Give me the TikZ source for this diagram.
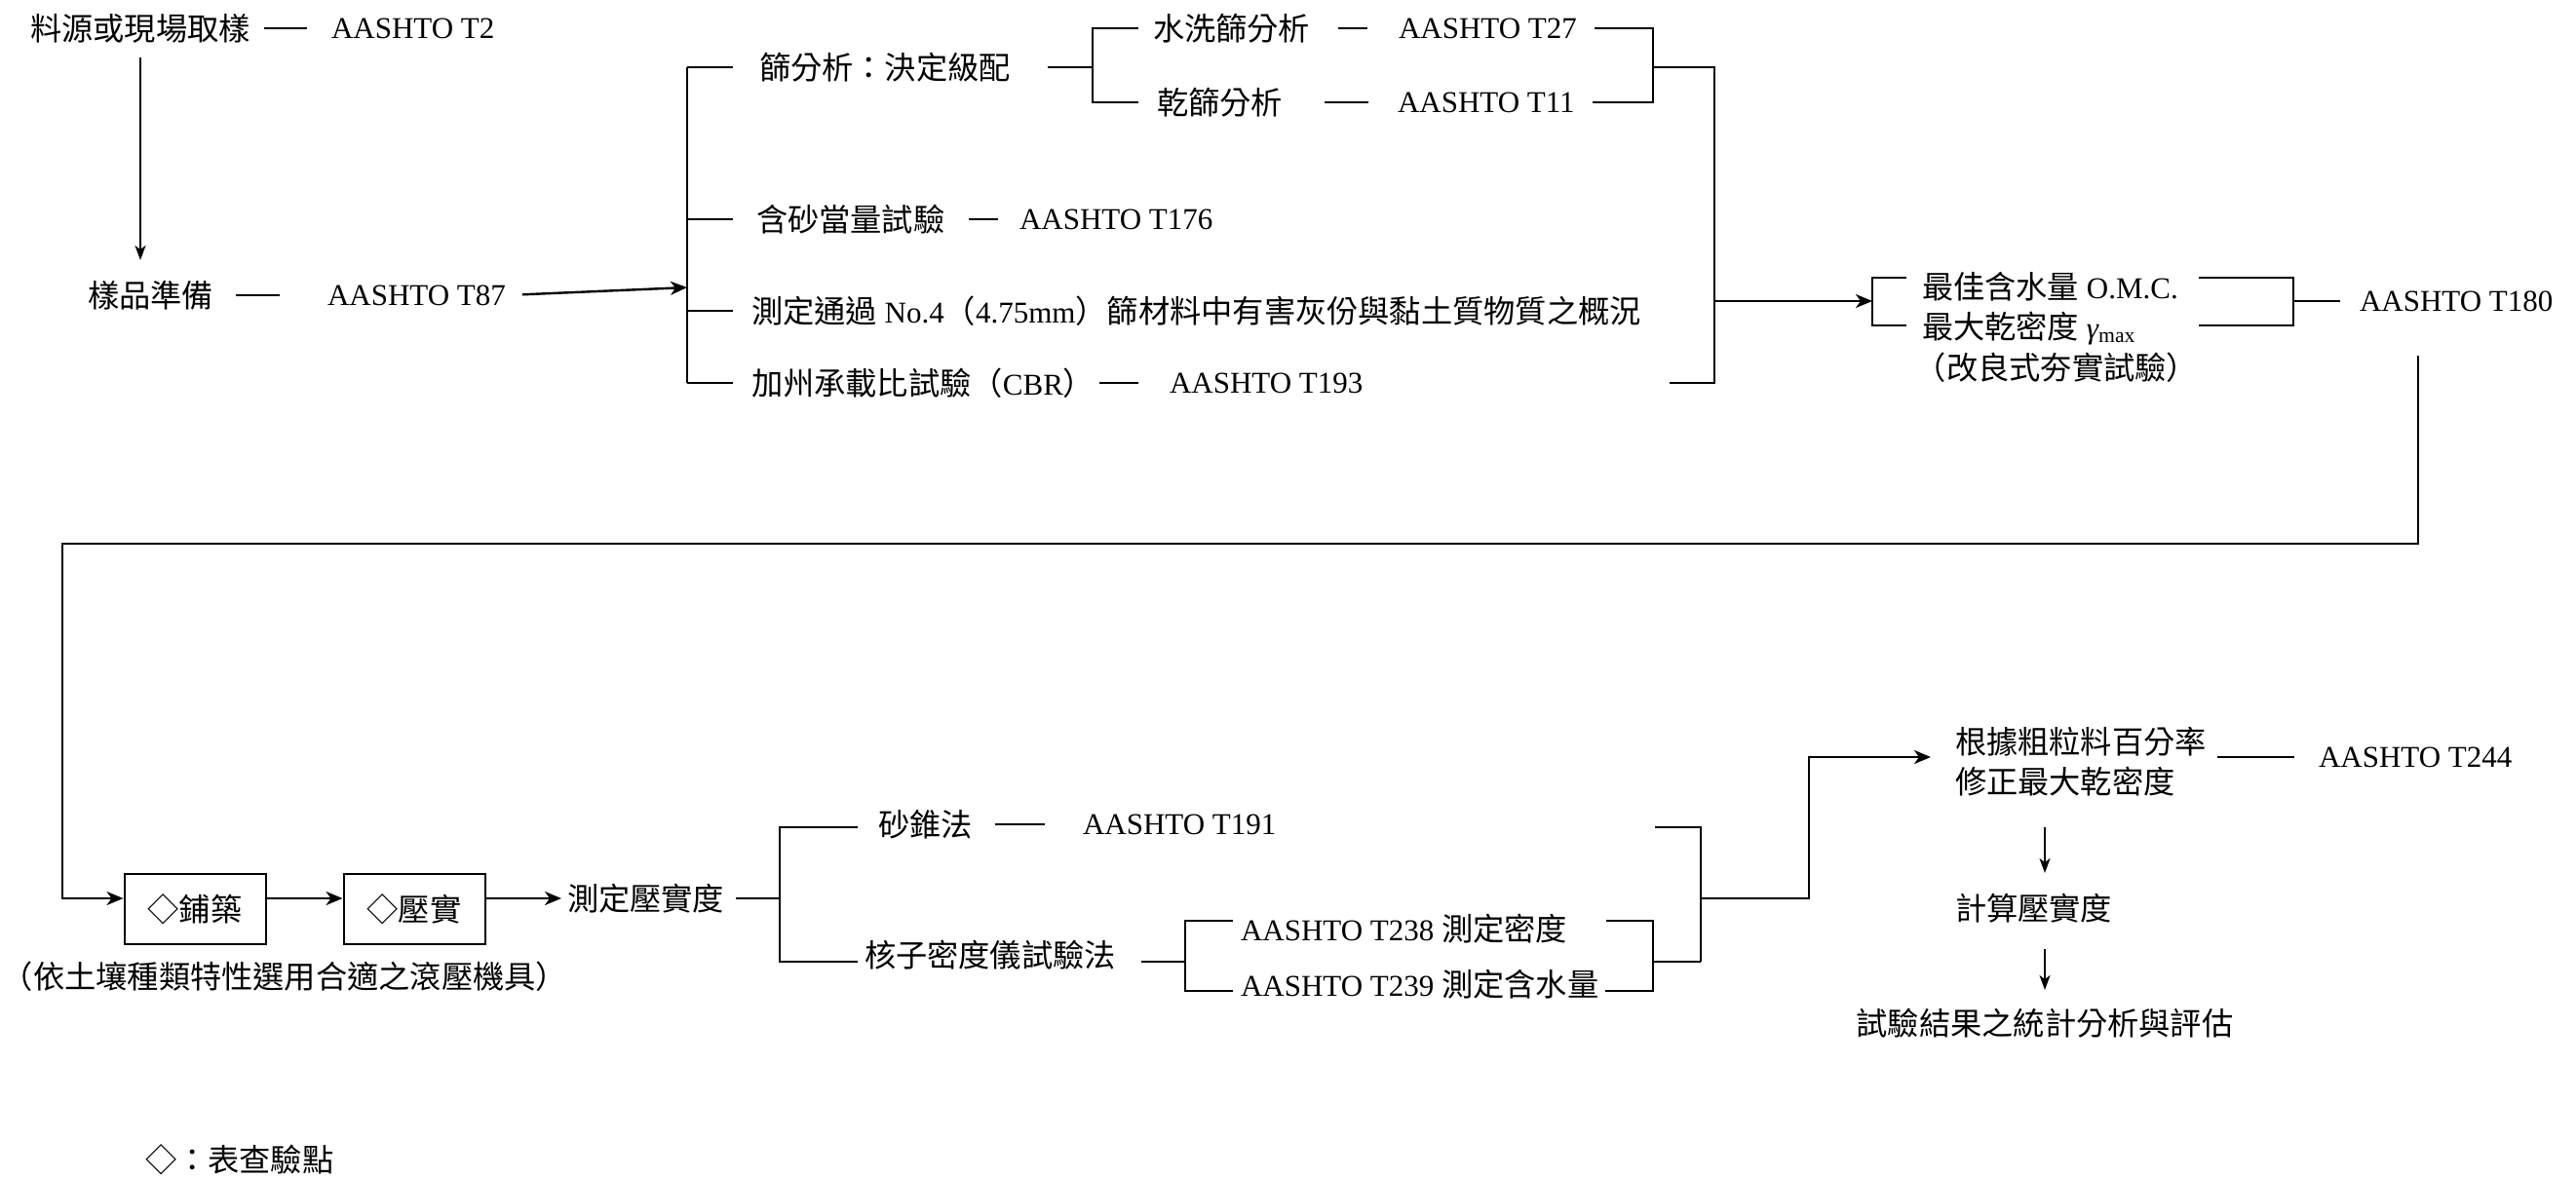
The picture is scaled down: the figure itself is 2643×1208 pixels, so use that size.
\documentclass[tikz,border=0pt]{standalone}
\usepackage{fontspec}
\setmainfont{Liberation Serif}
\newfontfamily\cjk[Scale=1.04]{Noto Sans CJK TC}
\usetikzlibrary{arrows.meta}

\begin{document}
\begin{tikzpicture}[x=1pt, y=-1pt, line width=2pt,
    every node/.style={inner sep=0pt, font=\fontsize{31}{41}\selectfont},
    zh/.style={font=\fontsize{31}{41}\selectfont\cjk},
    flow/.style={-{Stealth[length=17pt, width=14pt, inset=5pt]}, line width=2.4pt},
    down/.style={-{Stealth[length=15pt, width=11pt, inset=4pt]}, line width=1.8pt}]
  \useasboundingbox (0,0) rectangle (2643,1208);
  % sampling and the tests on the sample, brackets gather the parallel tests
  \node[zh] (src) at (144,29) {料源或現場取樣};
  \node[anchor=west] (t2) at (339,29) {AASHTO T2};
  \node[zh, anchor=west] (prep) at (89,303) {樣品準備};
  \node[anchor=west] (t87) at (335,303) {AASHTO T87};
  \draw[shorten <=13pt, shorten >=24pt] (src) -- (t2);
  \draw[shorten <=22pt, shorten >=48pt] (prep) -- (t87);
  \draw[down, shorten <=14pt, shorten >=20pt] (src.south) -- (src.south |- prep.north);

  \coordinate (lbt) at (705,69);
  \coordinate (lbb) at (705,393);
  \coordinate (lbin) at (705,295);
  \node[zh, anchor=west] (sieve) at (778,69) {篩分析：決定級配};
  \node[zh, anchor=west] (sand) at (775,225) {含砂當量試驗};
  \node[anchor=west] (t176) at (1045,225) {AASHTO T176};
  \node[anchor=west] (fines) at (770,319) {{\cjk 測定通過} No.4{\cjk （}4.75mm{\cjk ）篩材料中有害灰份與黏土質物質之概況}};
  \node[anchor=west] (cbr) at (770,393) {{\cjk 加州承載比試驗（}CBR{\cjk ）}};
  \node[anchor=west] (t193) at (1199,393) {AASHTO T193};
  \draw[flow, shorten <=16pt] (t87.east) -- (lbin);
  \draw (lbt) -- (lbb);
  \foreach \n in {sieve,sand,fines,cbr}
    \draw (lbt |- \n.west) -- ++(47,0);
  \draw[shorten <=24pt, shorten >=21pt] (sand) -- (t176);
  \draw[shorten <=4pt, shorten >=31pt] (cbr) -- (t193);

  \node[zh, anchor=west] (wash) at (1182,29) {水洗篩分析};
  \node[anchor=west] (t27) at (1434,29) {AASHTO T27};
  \node[zh, anchor=west] (dry) at (1186,105) {乾篩分析};
  \node[anchor=west] (t11) at (1433,105) {AASHTO T11};
  \coordinate (sbt) at (1121,29);
  \coordinate (sbb) at (1121,105);
  \coordinate (srt) at (1696,29);
  \coordinate (srm) at (1696,69);
  \draw[shorten <=37pt] (sieve.east) -- (sieve.east -| sbt);
  \draw ([xshift=47pt]sbt) -- (sbt) -- (sbb) -- ([xshift=47pt]sbb);
  \draw[shorten <=28pt, shorten >=31pt] (wash) -- (t27);
  \draw[shorten <=42pt, shorten >=29pt] (dry) -- (t11);
  \draw[shorten <=17pt, shorten >=17pt] (t27.east) -- (t27.east -| srt) -- (srt |- t11.east) -- (t11.east);

  \coordinate (rbt) at (1759,69);
  \coordinate (rbb) at (1759,393);
  \coordinate (rbm) at (1759,309);
  \draw (srm) -- (rbt) -- (rbb) -- ++(-46,0);

  \node[anchor=west] (omc) at (1971,294) {{\cjk 最佳含水量} O.M.C.};
  \node[anchor=west] (gmax) at (1971,337) {{\cjk 最大乾密度} {\itshape γ}\textsubscript{max}};
  \node[zh] (modp) at (2110,377) {（改良式夯實試驗）};
  \node[anchor=west] (t180) at (2420,309) {AASHTO T180};
  \coordinate (obt) at (1921,285);
  \coordinate (obb) at (1921,334);
  \coordinate (obm) at (1921,309);
  \coordinate (ort) at (2353,285);
  \coordinate (orb) at (2353,334);
  \coordinate (orm) at (2353,309);
  \draw[flow] (rbm) -- (obm);
  \draw ([xshift=35pt]obt) -- (obt) -- (obb) -- ([xshift=35pt]obb);
  \draw ([xshift=-97pt]ort) -- (ort) -- (orb) -- ([xshift=-97pt]orb);
  \draw[shorten >=19pt] (orm) -- (t180.west);

  % field work
  \tikzset{stage/.style={zh, draw, minimum width=145pt, minimum height=72pt}}
  \coordinate (ret) at (2481,365);
  \coordinate (turn) at (64,558);
  \node[stage] (pave) at (200,933) {◇鋪築};
  \node[stage] (roll) at (425,933) {◇壓實};
  \node[zh] (note) at (292,1002) {（依土壤種類特性選用合適之滾壓機具）};
  \node[zh, anchor=west] (meas) at (581,922) {測定壓實度};
  \draw[flow, line width=2pt] (ret) |- (turn) |- ([yshift=11pt]pave.west);
  \draw[flow] ([yshift=11pt]pave.east) -- ([yshift=11pt]roll.west);
  \draw[flow, shorten >=5pt] ([yshift=11pt]roll.east) -- (meas.west);

  \node[zh, anchor=west] (cone) at (900,846) {砂錐法};
  \node[anchor=west] (t191) at (1110,846) {AASHTO T191};
  \node[zh, anchor=west] (nuc) at (886,980) {核子密度儀試驗法};
  \node[anchor=west] (t238) at (1272,953) {AASHTO T238 {\cjk 測定密度}};
  \node[anchor=west] (t239) at (1272,1010) {AASHTO T239 {\cjk 測定含水量}};
  \coordinate (mbt) at (800,849);
  \coordinate (mbb) at (800,987);
  \coordinate (nbt) at (1216,945);
  \coordinate (nbb) at (1216,1017);
  \coordinate (nbm) at (1216,987);
  \coordinate (nrt) at (1696,945);
  \coordinate (nrb) at (1696,1017);
  \coordinate (nrm) at (1696,987);
  \coordinate (bbt) at (1745,849);
  \coordinate (bbb) at (1745,987);
  \coordinate (bbm) at (1745,922);
  \coordinate (rise) at (1856,777);
  \draw[shorten <=11pt] (meas.east) -- (meas.east -| mbt);
  \draw ([xshift=80pt]mbt) -- (mbt) -- (mbb) -- ([xshift=80pt]mbb);
  \draw[shorten <=22pt, shorten >=38pt] (cone) -- (t191);
  \draw[shorten <=25pt] (nuc.east |- nbm) -- (nbm);
  \draw ([xshift=49pt]nbt) -- (nbt) -- (nbb) -- ([xshift=49pt]nbb);
  \draw ([xshift=-48pt]nrt) -- (nrt) -- (nrb) -- ([xshift=-49pt]nrb);
  \draw (nrm) -- (bbb);
  \draw ([xshift=-47pt]bbt) -- (bbt) -- (bbb);

  \node[zh, anchor=west, align=left] (corr) at (2005,782) {根據粗粒料百分率\\修正最大乾密度};
  \node[anchor=west] (t244) at (2378,777) {AASHTO T244};
  \node[zh, anchor=west] (calc) at (2005,932) {計算壓實度};
  \node[zh] (eval) at (2098,1050) {試驗結果之統計分析與評估};
  \draw[flow, shorten >=24pt] (bbm) -| (rise) -- (rise -| corr.west);
  \draw[shorten <=10pt, shorten >=24pt] (t244 -| corr.east) -- (t244.west);
  \draw[down, shorten <=31pt, shorten >=20pt] (corr.south -| eval) -- (calc.north -| eval);
  \draw[down, shorten <=26pt, shorten >=18pt] (calc.south -| eval) -- (eval.north);

  \node[zh, anchor=west] (key) at (148,1190) {◇：表查驗點};
\end{tikzpicture}
\end{document}
